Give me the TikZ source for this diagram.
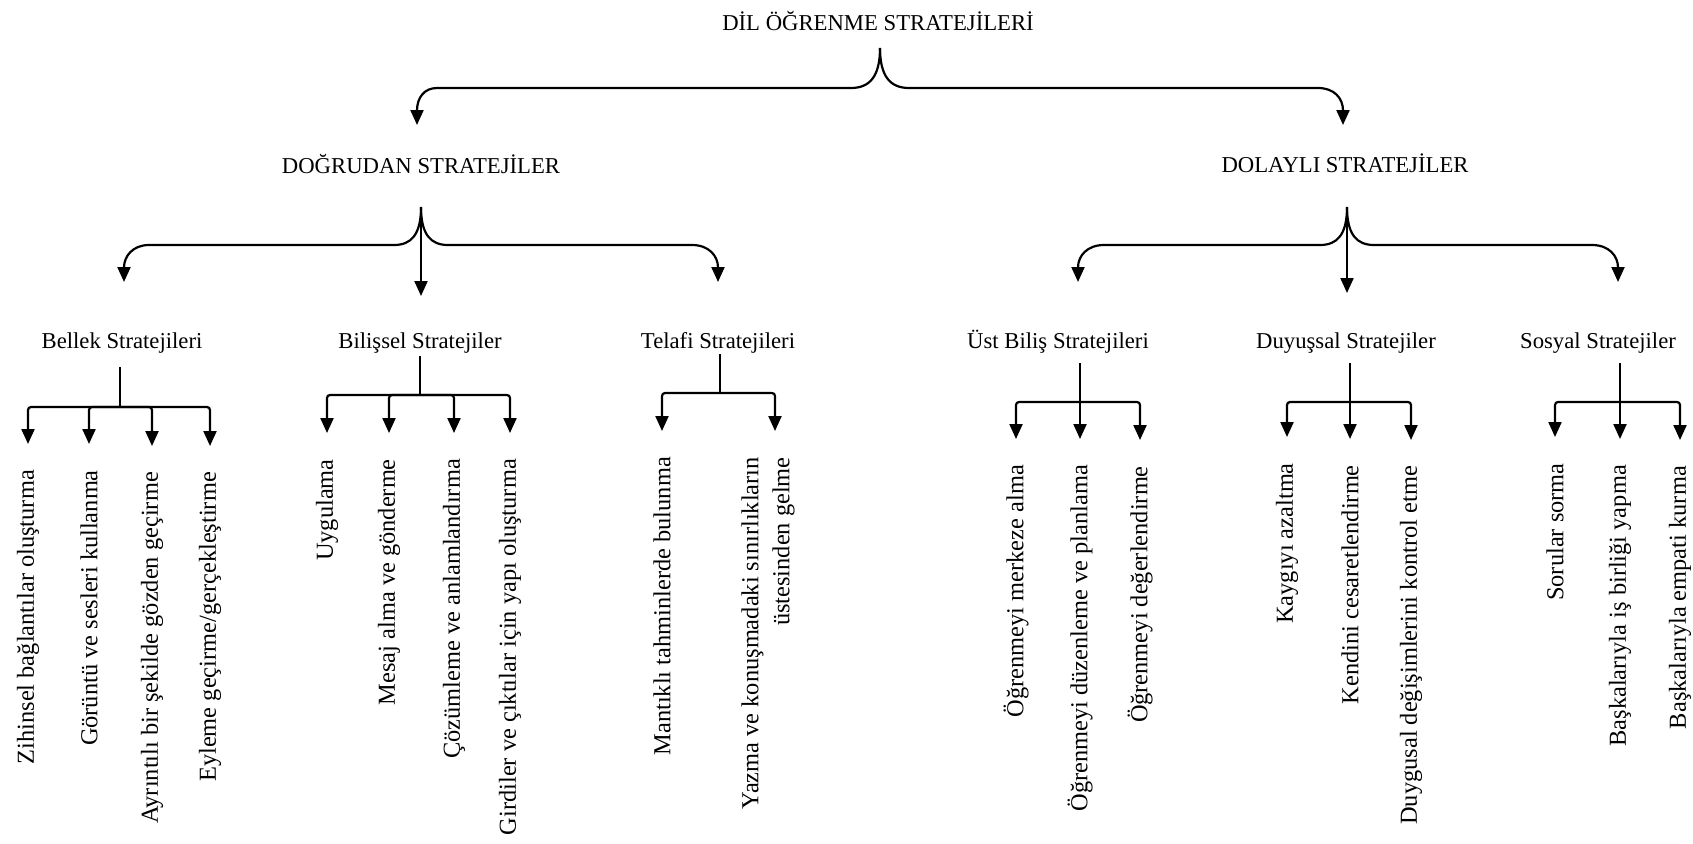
\documentclass[tikz,border=0pt]{standalone}
\usepackage{fontspec}
\setmainfont{Liberation Serif}
\usetikzlibrary{arrows.meta}
\begin{document}
\begin{tikzpicture}[x=1pt,y=1pt,
  ln/.style={line width=2.2pt},
  arr/.style={line width=2.2pt,-{Triangle[length=15pt,width=13pt]}},
  hl/.style={inner sep=0pt,font=\fontsize{22.7}{27}\selectfont,anchor=base},
  vl/.style={inner sep=0pt,rotate=90,anchor=east,font=\fontsize{24.4}{31}\selectfont},
  leaf/.style={arr,rounded corners=3pt,shorten >=26pt}
]
\useasboundingbox (0,0) rectangle (1693,-843);
% ---------- labels ----------
\node[hl] (root) at (878,-31) {DİL ÖĞRENME STRATEJİLERİ};
\node[hl] (dog) at (421,-173) {DOĞRUDAN STRATEJİLER};
\node[hl] (dol) at (1345,-172) {DOLAYLI STRATEJİLER};
\node[hl] (bel) at (122,-348) {Bellek Stratejileri};
\node[hl] (bil) at (420,-348) {Bilişsel Stratejiler};
\node[hl] (tel) at (718,-348) {Telafi Stratejileri};
\node[hl] (ust) at (1058,-348) {Üst Biliş Stratejileri};
\node[hl] (duy) at (1346,-348) {Duyuşsal Stratejiler};
\node[hl] (sos) at (1598,-348) {Sosyal Stratejiler};
% ---------- top brace ----------
\coordinate (c0) at (880,-48);
\coordinate (t0l) at (417,-125);
\coordinate (t0r) at (1343,-125);
\draw[arr] (c0) .. controls (880,-76) and (870,-88) .. (851,-88) -- (437,-88)
  .. controls (424,-88) and (417,-98) .. (t0l);
\draw[arr] (c0) .. controls (880,-76) and (890,-88) .. (909,-88) -- (1318,-88)
  .. controls (1334,-88) and (1343,-98) .. (t0r);
% ---------- Dogrudan brace ----------
\coordinate (c1) at (421,-207);
\coordinate (t1l) at (124,-282);
\coordinate (t1m) at (421,-296);
\coordinate (t1r) at (718,-282);
\draw[arr] (c1) .. controls (421,-235) and (411,-245) .. (394,-245) -- (149,-245)
  .. controls (133,-245) and (124,-256) .. (t1l);
\draw[arr] (c1) .. controls (421,-235) and (431,-245) .. (448,-245) -- (692,-245)
  .. controls (709,-245) and (718,-256) .. (t1r);
\draw[arr] (c1) -- (t1m);
% ---------- Dolayli brace ----------
\coordinate (c2) at (1347,-207);
\coordinate (t2l) at (1078,-282);
\coordinate (t2m) at (1347,-293);
\coordinate (t2r) at (1618,-282);
\draw[arr] (c2) .. controls (1347,-235) and (1337,-245) .. (1320,-245) -- (1104,-245)
  .. controls (1087,-245) and (1078,-256) .. (t2l);
\draw[arr] (c2) .. controls (1347,-235) and (1357,-245) .. (1374,-245) -- (1592,-245)
  .. controls (1609,-245) and (1618,-256) .. (t2r);
\draw[arr] (c2) -- (t2m);
% ---------- Bellek ----------
\coordinate (belt) at (120,-367);
\coordinate (belj) at (120,-407);
\node[vl] (b1) at (28,-470) {Zihinsel bağlantılar oluşturma};
\node[vl] (b2) at (89,-470) {Görüntü ve sesleri kullanma};
\node[vl] (b3) at (152,-472) {Ayrıntılı bir şekilde gözden geçirme};
\node[vl] (b4) at (210,-472) {Eyleme geçirme/gerçekleştirme};
\draw[ln] (belt) -- (belj);
\foreach \n in {b1,b2,b3,b4} \draw[leaf] (belj) -| (\n.east);
% ---------- Bilissel ----------
\coordinate (bilt) at (420,-356);
\coordinate (bilj) at (420,-395);
\node[vl] (i1) at (327,-459) {Uygulama};
\node[vl] (i2) at (389,-459) {Mesaj alma ve gönderme};
\node[vl] (i3) at (454,-459) {Çözümleme ve anlamlandırma};
\node[vl] (i4) at (510,-459) {Girdiler ve çıktılar için yapı oluşturma};
\draw[ln] (bilt) -- (bilj);
\foreach \n in {i1,i2,i3,i4} \draw[leaf] (bilj) -| (\n.east);
% ---------- Telafi ----------
\coordinate (telt) at (720,-354);
\coordinate (telj) at (720,-393);
\node[vl] (e1) at (662,-457) {Mantıklı tahminlerde bulunma};
\node[vl,align=right] (e2) at (768,-457) {Yazma ve konuşmadaki sınırlıkların\\üstesinden gelme};
\draw[ln] (telt) -- (telj);
\draw[leaf] (telj) -| (e1.east);
\draw[leaf] (telj) -| ([xshift=7pt]e2.east);
% ---------- Ust bilis ----------
\coordinate (ustt) at (1080,-363);
\coordinate (ustj) at (1080,-402);
\node[vl] (u1) at (1016,-465) {Öğrenmeyi merkeze alma};
\node[vl] (u2) at (1080,-465) {Öğrenmeyi düzenleme ve planlama};
\node[vl] (u3) at (1140,-466) {Öğrenmeyi değerlendirme};
\draw[ln] (ustt) -- (ustj);
\draw[leaf] (ustj) -| (u1.east);
\draw[leaf] (ustj) -- (u2.east);
\draw[leaf] (ustj) -| (u3.east);
% ---------- Duyussal ----------
\coordinate (duyt) at (1350,-363);
\coordinate (duyj) at (1350,-402);
\node[vl] (d1) at (1287,-463) {Kaygıyı azaltma};
\node[vl] (d2) at (1350,-465) {Kendini cesaretlendirme};
\node[vl] (d3) at (1411,-466) {Duygusal değişimlerini kontrol etme};
\draw[ln] (duyt) -- (duyj);
\draw[leaf] (duyj) -| (d1.east);
\draw[leaf] (duyj) -- (d2.east);
\draw[leaf] (duyj) -| (d3.east);
% ---------- Sosyal ----------
\coordinate (sost) at (1620,-363);
\coordinate (sosj) at (1620,-402);
\node[vl] (s1) at (1555,-463) {Sorular sorma};
\node[vl] (s2) at (1620,-465) {Başkalarıyla iş birliği yapma};
\node[vl] (s3) at (1680,-466) {Başkalarıyla empati kurma};
\draw[ln] (sost) -- (sosj);
\draw[leaf] (sosj) -| (s1.east);
\draw[leaf] (sosj) -- (s2.east);
\draw[leaf] (sosj) -| (s3.east);
\end{tikzpicture}
\end{document}
